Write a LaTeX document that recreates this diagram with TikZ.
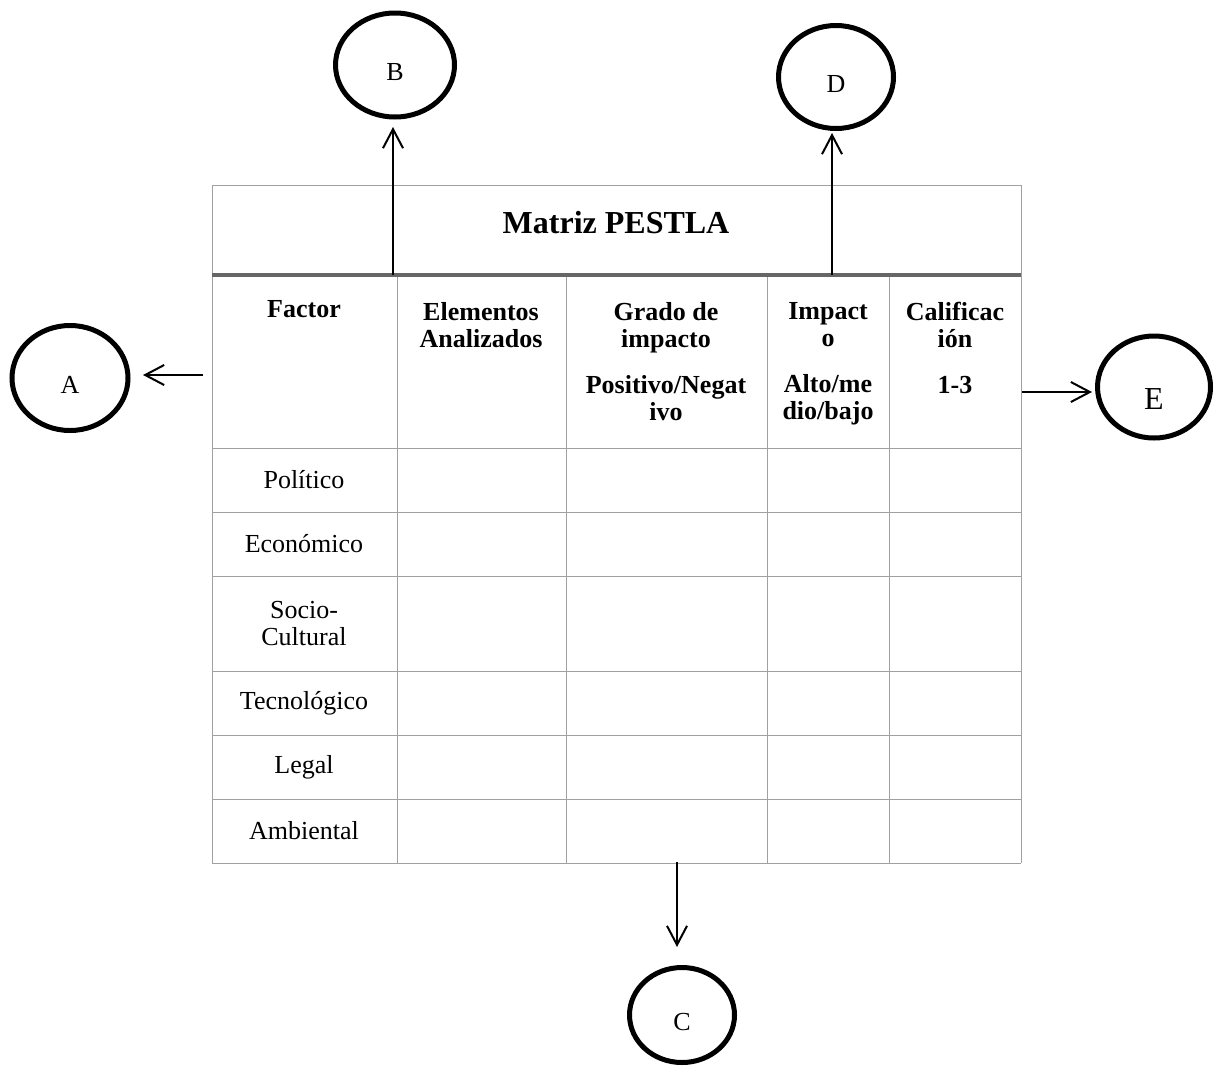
\documentclass[tikz,border=0pt]{standalone}
\usepackage{fontspec}
\setmainfont{Liberation Serif}
\usetikzlibrary{shapes.geometric,arrows.meta}

\definecolor{gridgray}{RGB}{160,160,160}
\definecolor{rulegray}{RGB}{102,102,102}

\begin{document}
\begin{tikzpicture}[x=0.5pt,y=-0.5pt,
    cell/.style={font=\fontsize{13}{13.5}\selectfont, align=center},
    hdr/.style={font=\fontsize{13}{13.5}\selectfont\bfseries, align=center, anchor=north, inner sep=0pt},
    gridline/.style={draw=gridgray, line width=0.5pt},
    tag/.style={draw, ellipse, line width=2.5pt, inner sep=0pt, font=\fontsize{13}{15}\selectfont, text height=15.6pt, text depth=0pt},
    link/.style={-{Straight Barb[length=9.5pt,width=10pt]}, line width=1pt}]
\useasboundingbox (0,0) rectangle (1214,1066);

% Tabla
\draw[gridline] (212,185) -- (1021,185);
\draw[gridline] (212,185) -- (212,863);
\draw[gridline] (1021,185) -- (1021,863);
\foreach \x in {397,566,767,889}
    \draw[gridline] (\x,275) -- (\x,863);
\foreach \y in {448,512,576,671,735,799,863}
    \draw[gridline] (212,\y) -- (1021,\y);
\draw[rulegray, line width=1.6pt] (212,275) -- (1021,275);

\node[font=\fontsize{16}{18}\selectfont\bfseries] (title) at (616,223) {Matriz PESTLA};

% Encabezados
\node[hdr] (hFactor) at (304,300) {Factor};
\node[hdr] (hElem) at (481,302) {Elementos\\Analizados};
\node[hdr] (hGrado) at (666,302) {Grado de\\impacto\\[9.5pt]Positivo/Negat\\ivo};
\node[hdr] (hImpact) at (828,302) {Impact\\o\\[9.5pt]Alto/me\\dio/bajo};
\node[hdr] (hCalif) at (955,302) {Calificac\\ión\\[9.5pt]1-3};

% Factores
\foreach \lbl/\y/\nm in {Político/480/rPol, Económico/544/rEco, Socio-\\Cultural/623.5/rSoc,
    Tecnológico/703/rTec, Legal/767/rLeg, Ambiental/831/rAmb}
    \node[cell] (\nm) at (304,\y) {\lbl};

% Circulos
\node[tag, minimum width=58pt, minimum height=52.5pt] (circA) at (70,378) {A};
\node[tag, minimum width=59.5pt, minimum height=52pt] (circB) at (395,65) {B};
\node[tag, minimum width=52.5pt, minimum height=47.5pt] (circC) at (682,1015) {C};
\node[tag, minimum width=57.5pt, minimum height=51.5pt] (circD) at (836,77) {D};
\node[tag, minimum width=56.5pt, minimum height=51pt, font=\fontsize{16}{18}\selectfont, text height=22.6pt] (circE) at (1154,387) {E};

% Flechas
\coordinate (outA) at (203,375);
\coordinate (outB) at (393,275);
\coordinate (outC) at (677,862);
\coordinate (outD) at (832,275);
\coordinate (outE) at (1022,392);

\draw[link, shorten >=6.25pt] (outA) -- (outA -| circA.east);
\draw[link, shorten >=3.75pt] (outB) -- (outB |- circB.south);
\draw[link, shorten >=9pt] (outC) -- (outC |- circC.north);
\draw[link, shorten >=1pt] (outD) -- (outD |- circD.south);
\draw[link, shorten >=1.5pt] (outE) -- (outE -| circE.west);
\end{tikzpicture}
\end{document}
